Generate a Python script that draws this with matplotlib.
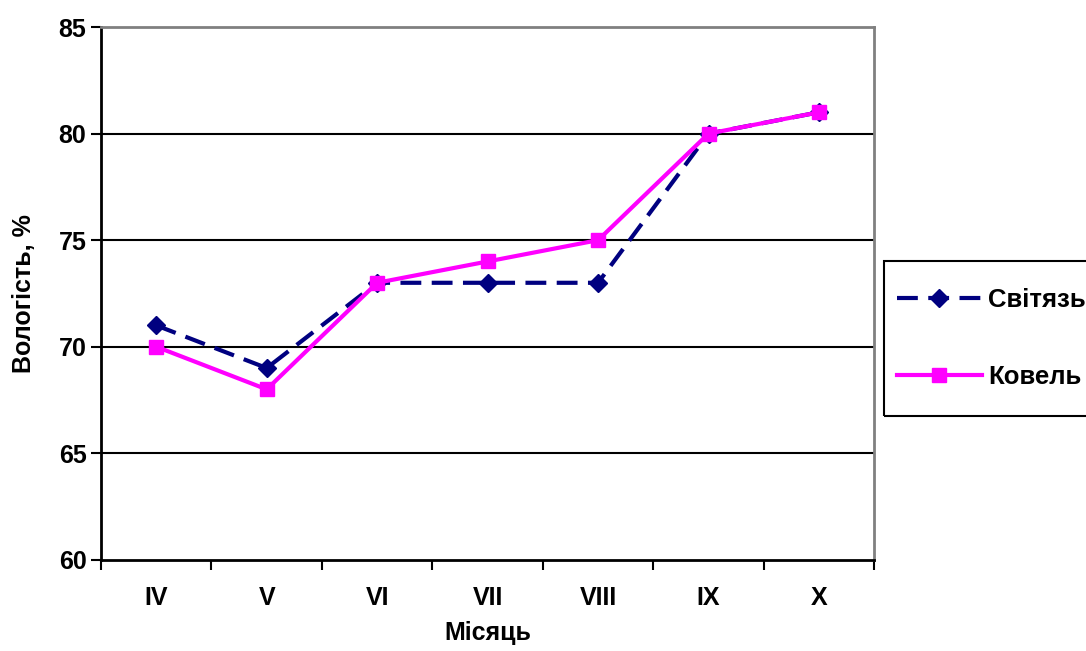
import matplotlib
matplotlib.use("Agg")
import matplotlib.pyplot as plt
from matplotlib.patches import Rectangle

months = ["IV", "V", "VI", "VII", "VIII", "IX", "X"]
svitiaz = [71, 69, 73, 73, 73, 80, 81]
kovel = [70, 68, 73, 74, 75, 80, 81]
yticks = [60, 65, 70, 75, 80, 85]

plt.rcParams["font.family"] = ["Liberation Sans", "DejaVu Sans"]
plt.rcParams["font.weight"] = "bold"

W, H = 1086, 651
fig = plt.figure(figsize=(W / 100, H / 100), dpi=100)
ax = fig.add_axes([0.093, 0.140, 0.712, 0.8185])

x = range(len(months))
ax.plot(x, svitiaz, color="#000080", lw=3, ls=(0, (5, 2.5)),
        marker="D", ms=9, label="Світязь", zorder=3)
ax.plot(x, kovel, color="#FF00FF", lw=3, marker="s", ms=10,
        label="Ковель", zorder=4)

ax.set_xticks(list(x))
ax.set_xticklabels(months, fontsize=18, fontweight="bold")
# category boundary ticks on x
ax.set_xticks([i - 0.5 for i in range(len(months) + 1)], minor=True)
ax.set_yticks(yticks)
ax.set_xlim(-0.5, len(months) - 0.5)
ax.set_ylim(60, 85)

ax.tick_params(axis="x", which="major", length=0, pad=19)
ax.tick_params(axis="x", which="minor", length=7, width=1.5, direction="out")
ax.tick_params(axis="y", length=7, width=1.5, direction="out", labelsize=18)
for lab in ax.get_yticklabels():
    lab.set_fontweight("bold")

for y in yticks[1:-1]:
    ax.axhline(y, color="black", lw=1.5, zorder=1)

for s in ax.spines.values():
    s.set_linewidth(2)
ax.spines["top"].set_color("#808080")
ax.spines["right"].set_color("#808080")

ax.set_xlabel("Місяць", fontsize=18, fontweight="bold", labelpad=8)
ax.set_ylabel("Вологість, %", fontsize=18, fontweight="bold", labelpad=16)

# legend frame drawn separately so it can match the reference box
fig.patches.append(Rectangle((884 / W, 1 - 416 / H), 220 / W, 155 / H,
                             transform=fig.transFigure, fill=False,
                             edgecolor="black", lw=1.5))
leg = fig.legend(loc="upper left", bbox_to_anchor=(884 / W, 1 - 275 / H),
                 fontsize=18.5, frameon=False,
                 handlelength=3.3, labelspacing=2.05, borderpad=0.5,
                 handletextpad=0.25, borderaxespad=0)
for t in leg.get_texts():
    t.set_fontweight("bold")

fig.savefig("out.png", dpi=100)
